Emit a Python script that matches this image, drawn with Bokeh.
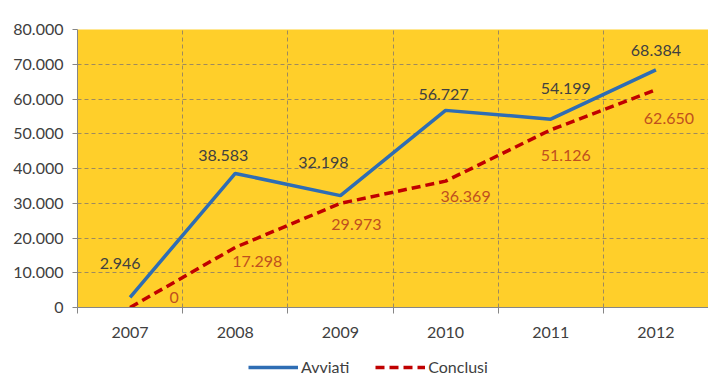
from bokeh.plotting import figure
from bokeh.layouts import column
from bokeh.models import (ColumnDataSource, Range1d, FixedTicker, LabelSet, Legend, LegendItem)
from bokeh.core.properties import value
from bokeh.embed import file_html
from bokeh.resources import INLINE

# ---- data ----
years = ["2007", "2008", "2009", "2010", "2011", "2012"]
avviati = [2946, 38583, 32198, 56727, 54199, 68384]
conclusi = [0, 17298, 29973, 36369, 51126, 62650]
y_ticks = [0, 10000, 20000, 30000, 40000, 50000, 60000, 70000, 80000]
series_names = ["Avviati", "Conclusi"]

# ---- styling: label nudges in pixels ----
av_dx = [-10, -12, -17, -2, 15, 0]
av_dy = [34, 18, 33, 16, 31, 19]
co_dx = [44, 22, 16, 20, 15, 13]
co_dy = [10, -14, -21, -15, -26, -29]

FONT = "Lato"
BG = "#FFCF2A"
BLUE = "#2E6DB4"
RED = "#C00000"
GRID = "#9E8A5E"
AXIS = "#868686"
TXT = "#404040"
RED_TXT = "#C0501E"
DASH = "9 5"

def fmt(v):
    return f"{v:,}".replace(",", ".")

xs = [i + 0.5 for i in range(len(years))]

src = ColumnDataSource(dict(
    x=xs, av=avviati, co=conclusi,
    av_lbl=[fmt(v) for v in avviati], co_lbl=[fmt(v) for v in conclusi],
    av_dx=av_dx, av_dy=av_dy, co_dx=co_dx, co_dy=co_dy,
))

p = figure(width=708, height=352, output_backend="svg", toolbar_location=None,
           x_range=Range1d(0, len(years)), y_range=Range1d(y_ticks[0], y_ticks[-1]),
           min_border_left=77, min_border_right=0, min_border_top=29, min_border_bottom=45)
p.background_fill_color = BG
p.border_fill_color = "white"
p.outline_line_color = None

# x axis: labels at category centres, ticks at boundaries
xt = FixedTicker(ticks=xs, minor_ticks=list(range(len(years) + 1)))
p.xaxis.ticker = xt
p.xaxis.major_label_overrides = {x: y for x, y in zip(xs, years)}
p.xaxis.major_tick_line_color = None
p.xaxis.major_tick_out = 0
p.xaxis.major_tick_in = 0
p.xaxis.minor_tick_out = 6
p.xaxis.minor_tick_in = 0
p.xaxis.minor_tick_line_color = AXIS
p.xaxis.axis_line_color = AXIS
p.xaxis.major_label_standoff = 13
p.xaxis.major_label_text_font = FONT
p.xaxis.major_label_text_font_size = "16px"
p.xaxis.major_label_text_color = TXT

p.xgrid.ticker = xt
p.xgrid.grid_line_color = None
p.xgrid.minor_grid_line_color = GRID
p.xgrid.minor_grid_line_dash = "4 3"
p.xgrid.minor_grid_line_width = 1

# y axis
yt = FixedTicker(ticks=y_ticks)
p.yaxis.ticker = yt
p.yaxis.major_label_overrides = {v: fmt(v) for v in y_ticks}
p.yaxis.axis_line_color = AXIS
p.yaxis.major_tick_line_color = AXIS
p.yaxis.major_tick_out = 5
p.yaxis.major_tick_in = 0
p.yaxis.minor_tick_line_color = None
p.yaxis.major_label_standoff = 9
p.yaxis.major_label_text_font = FONT
p.yaxis.major_label_text_font_size = "16px"
p.yaxis.major_label_text_color = TXT
p.ygrid.ticker = yt
p.ygrid.grid_line_color = GRID
p.ygrid.grid_line_dash = "4 3"
p.ygrid.grid_line_width = 1

p.line("x", "av", source=src, line_color=BLUE, line_width=3.5)
p.line("x", "co", source=src, line_color=RED, line_width=3.5, line_dash=DASH)

p.add_layout(LabelSet(x="x", y="av", text="av_lbl", source=src,
                      x_offset="av_dx", y_offset="av_dy",
                      text_align="center", text_baseline="middle",
                      text_font=value(FONT), text_font_size="16px", text_color=TXT))
p.add_layout(LabelSet(x="x", y="co", text="co_lbl", source=src,
                      x_offset="co_dx", y_offset="co_dy",
                      text_align="center", text_baseline="middle",
                      text_font=value(FONT), text_font_size="16px", text_color=RED_TXT))

# ---- legend strip below the chart (its lines sit outside its visible range) ----
lg = figure(width=708, height=24, output_backend="svg", toolbar_location=None,
            x_range=Range1d(-3, -2), y_range=Range1d(-3, -2),
            min_border=0, x_axis_type=None, y_axis_type=None)
lg.outline_line_color = None
lg.grid.visible = False
g_av = lg.line("x", "av", source=src, line_color=BLUE, line_width=3.5)
g_co = lg.line("x", "co", source=src, line_color=RED, line_width=3.5, line_dash=DASH)
legend = Legend(items=[LegendItem(label=series_names[0], renderers=[g_av]),
                       LegendItem(label=series_names[1], renderers=[g_co])],
                orientation="horizontal", location=(171, 0),
                glyph_width=50, glyph_height=18, label_standoff=3, spacing=26,
                padding=0, margin=0, border_line_color=None, background_fill_alpha=0,
                label_text_font=FONT, label_text_font_size="16px", label_text_color=TXT)
lg.add_layout(legend, "center")

layout = column(p, lg, spacing=0)
open("out.html", "w").write(file_html(layout, INLINE))
